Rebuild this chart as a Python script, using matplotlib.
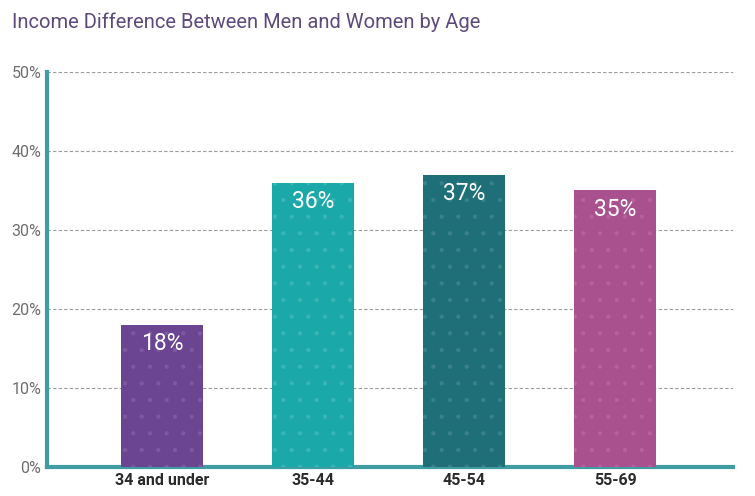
import matplotlib.pyplot as plt

plt.rcParams['font.family'] = ['Roboto', 'DejaVu Sans']
plt.rcParams['hatch.linewidth'] = 0.6

categories = ['34 and under', '35-44', '45-54', '55-69']
values = [18, 36, 37, 35]
colors = ['#6c4592', '#1aa9a8', '#1f6f78', '#a9508f']
dot_colors = ['#7d5aa0', '#3ab5b4', '#3a8288', '#b4639c']
yticks = [0, 10, 20, 30, 40, 50]

fig = plt.figure(figsize=(7.55, 4.96), dpi=100)
ax = fig.add_axes([0.0623, 0.0585, 0.9087, 0.7965])

x = range(len(categories))
bars = ax.bar(x, values, width=0.54, color=colors, zorder=3)
for b, dc in zip(bars, dot_colors):
    b.set_hatch('.')
    b.set_edgecolor(dc)
    b.set_linewidth(0)

for xi, v in zip(x, values):
    ax.text(xi, v - 0.9, '%d%%' % v, ha='center', va='top', color='white',
            fontsize=16.5, zorder=4)

ax.set_xlim(-0.76, 3.78)
ax.set_ylim(0, 50)
ax.set_yticks(yticks)
ax.set_yticklabels(['%d%%' % t for t in yticks], color='#6e6e6e', fontsize=11.5)
ax.set_xticks(list(x))
ax.set_xticklabels(categories, fontsize=11.5, fontweight='bold', color='#2b2b2b')
ax.tick_params(axis='both', length=0, pad=4)

ax.grid(axis='y', linestyle=(0, (3, 2)), color='#9a9a9a', linewidth=0.8, zorder=0)

for s in ['top', 'right']:
    ax.spines[s].set_visible(False)
for s in ['left', 'bottom']:
    ax.spines[s].set_color('#3f9ca2')
    ax.spines[s].set_linewidth(3)

fig.text(0.016, 0.955, 'Income Difference Between Men and Women by Age',
         fontsize=14.5, color='#5d4a7c', va='center', ha='left')

plt.savefig('out.png', dpi=100)
